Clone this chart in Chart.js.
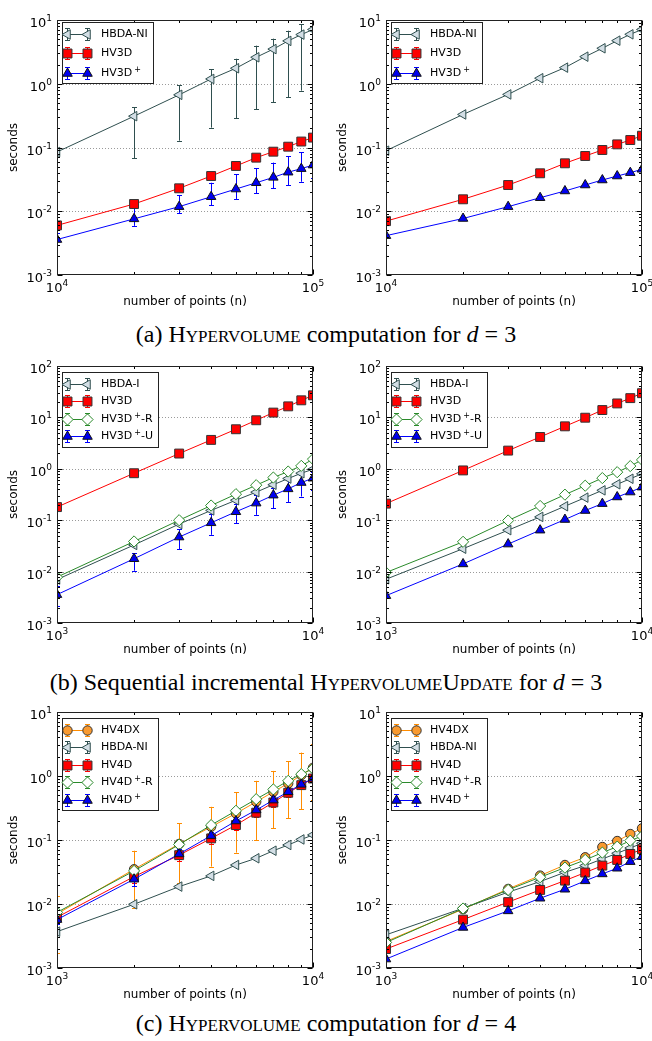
<!DOCTYPE html>
<html>
<head>
<meta charset="utf-8">
<script src="https://cdn.jsdelivr.net/npm/chart.js@4.4.1/dist/chart.umd.min.js"></script>
<style>
  body { margin: 0; background: #fff; }
  #page { position: relative; width: 652px; height: 1041px; overflow: hidden; background: #fff; }
  canvas { position: absolute; }
  .cap { position: absolute; left: 0; width: 652px; text-align: center;
         font-family: "Liberation Serif", "DejaVu Serif", serif; font-size: 24px; line-height: 24px; color: #000; }
  .sc { font-variant: small-caps; }
</style>
</head>
<body>
<div id="page">
  <canvas id="aL" width="326" height="311" style="left:0;top:0"></canvas>
  <canvas id="aR" width="323" height="311" style="left:329px;top:0"></canvas>
  <div class="cap" style="top:322px">(a) <span class="sc">Hypervolume</span> computation for <i>d</i> = 3</div>
  <canvas id="bL" width="326" height="315" style="left:0;top:344px"></canvas>
  <canvas id="bR" width="323" height="315" style="left:329px;top:344px"></canvas>
  <div class="cap" style="top:670px">(b) Sequential incremental <span class="sc">HypervolumeUpdate</span> for <i>d</i> = 3</div>
  <canvas id="cL" width="326" height="312" style="left:0;top:692px"></canvas>
  <canvas id="cR" width="323" height="312" style="left:329px;top:692px"></canvas>
  <div class="cap" style="top:1011px">(c) <span class="sc">Hypervolume</span> computation for <i>d</i> = 4</div>
</div>
<script>
// number of points
const nA = [10000, 20000, 30000, 40000, 50000, 60000, 70000, 80000, 90000, 100000];
const nBC = [1000, 2000, 3000, 4000, 5000, 6000, 7000, 8000, 9000, 10000];

// axis decades and their tick labels (10^exp)
const xMajorA = [1e4, 1e5];
const xExpA = ['4', '5'];
const xMajorBC = [1e3, 1e4];
const xExpBC = ['3', '4'];
const yMajorAC = [1e-3, 1e-2, 1e-1, 1, 10];
const yExpAC = ['-3', '-2', '-1', '0', '1'];
const yMajorB = [1e-3, 1e-2, 1e-1, 1, 10, 100];
const yExpB = ['-3', '-2', '-1', '0', '1', '2'];

// (a) left
const aL_hbda = [0.085, 0.31, 0.67, 1.19, 1.75, 2.6, 3.5, 4.7, 5.9, 7.1];
const aL_hbdaLo = [0.072, 0.068, 0.128, 0.205, 0.287, 0.397, 0.51, 0.61, 0.78, 1.0];
const aL_hbdaHi = [0.098, 0.43, 0.95, 1.68, 2.47, 3.96, 5.1, 6.8, 8.5, 12];
const aL_hv3d = [0.0060, 0.013, 0.0229, 0.0357, 0.0513, 0.0693, 0.086, 0.103, 0.124, 0.143];
const aL_hv3dLo = [0.0054, 0.0115, 0.0205, 0.032, 0.046, 0.062, 0.078, 0.093, 0.111, 0.128];
const aL_hv3dHi = [0.0067, 0.0148, 0.0255, 0.040, 0.057, 0.077, 0.096, 0.115, 0.138, 0.160];
const aL_hv3dp = [0.0036, 0.0076, 0.0118, 0.0169, 0.0223, 0.028, 0.034, 0.041, 0.0466, 0.053];
const aL_hv3dpLo = [0.0030, 0.0059, 0.0093, 0.0125, 0.0156, 0.019, 0.0229, 0.0258, 0.029, 0.0336];
const aL_hv3dpHi = [0.0045, 0.0111, 0.018, 0.028, 0.038, 0.047, 0.058, 0.0736, 0.084, 0.099];

// (a) right
const aR_hbda = [0.089, 0.33, 0.68, 1.22, 1.79, 2.66, 3.6, 4.74, 5.96, 7.1];
const aR_hv3d = [0.0070, 0.0154, 0.0258, 0.0394, 0.0565, 0.0736, 0.0914, 0.112, 0.131, 0.153];
const aR_hv3dp = [0.00414, 0.0077, 0.0118, 0.0163, 0.0208, 0.0258, 0.0309, 0.0357, 0.0403, 0.0455];

// (b) left
const bL_hbda = [0.0070, 0.033, 0.084, 0.155, 0.245, 0.351, 0.49, 0.647, 0.82, 0.98];
const bL_hv3d = [0.18, 0.82, 1.98, 3.65, 5.88, 8.8, 12.4, 16.4, 21.5, 26.9];
const bL_hv3dR = [0.0078, 0.0386, 0.100, 0.193, 0.321, 0.48, 0.676, 0.885, 1.14, 1.54];
const bL_hv3dU = [0.00356, 0.0178, 0.047, 0.089, 0.146, 0.215, 0.307, 0.407, 0.54, 0.656];
const bL_hv3dULo = [0.0021, 0.0104, 0.0274, 0.052, 0.0877, 0.127, 0.171, 0.224, 0.289, 0.39];
const bL_hv3dUHi = [0.0052, 0.023, 0.067, 0.133, 0.205, 0.303, 0.42, 0.61, 0.76, 0.885];

// (b) right
const bR_hbda = [0.0071, 0.0279, 0.064, 0.116, 0.187, 0.275, 0.381, 0.50, 0.64, 0.80];
const bR_hv3d = [0.21, 0.93, 2.26, 4.16, 6.7, 9.86, 13.9, 18.7, 23.7, 29.6];
const bR_hv3dR = [0.0096, 0.038, 0.0986, 0.189, 0.314, 0.469, 0.66, 0.86, 1.13, 1.49];
const bR_hv3dU = [0.0034, 0.0141, 0.0343, 0.064, 0.103, 0.154, 0.21, 0.283, 0.353, 0.44];

// (c) left
const cL_hv4dx = [0.0070, 0.0349, 0.0867, 0.161, 0.26, 0.395, 0.566, 0.764, 1.03, 1.34];
const cL_hv4dxLo = [0.0017, 0.0086, 0.0211, 0.0384, 0.0635, 0.1, 0.152, 0.218, 0.30, 0.42];
const cL_hv4dxHi = [0.0131, 0.068, 0.182, 0.33, 0.553, 0.84, 1.2, 1.70, 2.32, 3.2];
const cL_hbda = [0.0037, 0.0099, 0.0187, 0.0275, 0.0407, 0.0518, 0.068, 0.0836, 0.102, 0.12];
const cL_hv4d = [0.0062, 0.0268, 0.058, 0.106, 0.171, 0.267, 0.386, 0.547, 0.72, 0.914];
const cL_hv4dLo = [0.0052, 0.0215, 0.047, 0.088, 0.145, 0.23, 0.33, 0.47, 0.63, 0.80];
const cL_hv4dHi = [0.0073, 0.032, 0.07, 0.125, 0.2, 0.31, 0.45, 0.63, 0.83, 1.05];
const cL_hv4dR = [0.0074, 0.0329, 0.085, 0.171, 0.286, 0.435, 0.617, 0.84, 1.07, 1.3];
const cL_hv4dp = [0.0057, 0.0244, 0.0605, 0.117, 0.198, 0.294, 0.42, 0.566, 0.74, 0.92];
const cL_hv4dpLo = [0.0048, 0.019, 0.05, 0.1, 0.17, 0.255, 0.365, 0.5, 0.65, 0.81];
const cL_hv4dpHi = [0.0068, 0.031, 0.073, 0.135, 0.228, 0.34, 0.48, 0.64, 0.84, 1.05];

// (c) right
const cR_hv4dx = [0.0026, 0.0083, 0.0172, 0.0278, 0.0407, 0.0537, 0.0778, 0.0964, 0.124, 0.152];
const cR_hbda = [0.0033, 0.0086, 0.0153, 0.0224, 0.0313, 0.0398, 0.0506, 0.062, 0.075, 0.0887];
const cR_hv4d = [0.00198, 0.0057, 0.0107, 0.0166, 0.0232, 0.031, 0.0398, 0.0488, 0.0605, 0.0716];
const cR_hv4dR = [0.0025, 0.0085, 0.0166, 0.0262, 0.037, 0.0488, 0.0635, 0.0787, 0.0977, 0.115];
const cR_hv4dp = [0.00138, 0.0043, 0.0078, 0.0123, 0.017, 0.023, 0.0295, 0.0362, 0.0459, 0.055];

// marker / line look per algorithm family
const look = {
  hbda:   { line: '#2F4F4F', fill: '#D3DEE5', edge: '#2F4F4F', shape: 'triangle', rot: -90, r: 5.5 },
  red:    { line: '#FF0000', fill: '#FF0000', edge: '#333333', shape: 'rect', rot: 0, r: 6.3 },
  blue:   { line: '#0000FF', fill: '#0000F0', edge: '#111111', shape: 'triangle', rot: 0, r: 5.5 },
  green:  { line: '#2A8A2A', fill: '#FFFFFF', edge: '#2A8A2A', shape: 'rectRot', rot: 0, r: 5.6 },
  orange: { line: '#FF8C00', fill: '#F99A30', edge: '#333333', shape: 'circle', rot: 0, r: 4.7 },
};

const FONT = '"DejaVu Sans", sans-serif';

function decadeTicks(majors) {
  let ticks = [];
  majors.forEach((v, i) => {
    ticks.push({ value: v, major: true });
    if (i < majors.length - 1) {
      for (let m = 2; m <= 9; m++) ticks.push({ value: +(v * m).toPrecision(4), major: false });
    }
  });
  return ticks;
}

function drawPow(ctx, exp, x, y, align) {
  ctx.font = `13px ${FONT}`;
  let w1 = ctx.measureText('10').width;
  ctx.font = `9px ${FONT}`;
  let w2 = ctx.measureText(exp).width;
  let x0 = align === 'right' ? x - w1 - w2 : x - (w1 + w2) / 2;
  ctx.textAlign = 'left';
  ctx.textBaseline = 'alphabetic';
  ctx.fillStyle = '#000';
  ctx.font = `13px ${FONT}`;
  ctx.fillText('10', x0, y);
  ctx.font = `9px ${FONT}`;
  ctx.fillText(exp, x0 + w1, y - 6);
}

function drawLabel(ctx, text, x, y) {
  // "⁺" is drawn as a small raised plus
  let parts = text.split('⁺');
  ctx.textBaseline = 'middle';
  ctx.textAlign = 'left';
  ctx.fillStyle = '#000';
  ctx.font = `11px ${FONT}`;
  ctx.fillText(parts[0], x, y);
  let cx = x + ctx.measureText(parts[0]).width;
  if (parts.length > 1) {
    cx += 2;
    ctx.font = `8px ${FONT}`;
    ctx.fillText('+', cx, y - 4);
    cx += ctx.measureText('+').width;
    ctx.font = `11px ${FONT}`;
    ctx.fillText(parts[1], cx, y);
    cx += ctx.measureText(parts[1]).width;
  }
  return cx - x;
}

function marker(ctx, st, x, y) {
  ctx.fillStyle = st.fill;
  ctx.strokeStyle = st.edge;
  ctx.lineWidth = 1;
  Chart.helpers.drawPoint(ctx, { pointStyle: st.shape, radius: st.r, rotation: st.rot, borderWidth: 1 }, x, y);
}

const paperPlugin = {
  id: 'paper',
  beforeDatasetsDraw(chart) {
    let { ctx, chartArea: ca, scales: { x, y } } = chart;
    let o = chart.options.plugins.paper;
    ctx.save();
    // dotted grid at inner decades
    ctx.strokeStyle = '#9a9a9a';
    ctx.lineWidth = 1;
    ctx.setLineDash([1, 2]);
    o.yMajor.slice(1, -1).forEach(v => {
      let py = Math.round(y.getPixelForValue(v)) + 0.5;
      ctx.beginPath();
      ctx.moveTo(ca.left, py);
      ctx.lineTo(ca.right, py);
      ctx.stroke();
    });
    ctx.setLineDash([]);
    // error bars
    ctx.beginPath();
    ctx.rect(ca.left, ca.top, ca.right - ca.left, ca.bottom - ca.top);
    ctx.clip();
    chart.data.datasets.forEach(ds => {
      if (!ds.lo) return;
      ctx.strokeStyle = ds.look.line;
      ds.data.forEach((p, k) => {
        let px = Math.round(x.getPixelForValue(p.x)) + 0.5;
        let y1 = y.getPixelForValue(ds.lo[k]);
        let y2 = y.getPixelForValue(ds.hi[k]);
        ctx.beginPath();
        ctx.moveTo(px, y1); ctx.lineTo(px, y2);
        ctx.moveTo(px - 2.5, Math.round(y1) + 0.5); ctx.lineTo(px + 2.5, Math.round(y1) + 0.5);
        ctx.moveTo(px - 2.5, Math.round(y2) + 0.5); ctx.lineTo(px + 2.5, Math.round(y2) + 0.5);
        ctx.stroke();
      });
    });
    ctx.restore();
  },
  afterDatasetsDraw(chart) {
    let { ctx, chartArea: ca, scales: { x, y } } = chart;
    let o = chart.options.plugins.paper;
    let L = Math.round(ca.left) + 0.5, R = Math.round(ca.right) - 0.5;
    let T = Math.round(ca.top) + 0.5, B = Math.round(ca.bottom) - 0.5;
    ctx.save();
    // inward tick marks on all four sides
    ctx.strokeStyle = '#000';
    ctx.lineWidth = 1;
    ctx.beginPath();
    x.ticks.forEach(t => {
      let px = Math.round(x.getPixelForValue(t.value)) + 0.5;
      let len = t.major ? 5 : 2.5;
      ctx.moveTo(px, B); ctx.lineTo(px, B - len);
      ctx.moveTo(px, T); ctx.lineTo(px, T + len);
    });
    y.ticks.forEach(t => {
      let py = Math.round(y.getPixelForValue(t.value)) + 0.5;
      let len = t.major ? 5 : 2.5;
      ctx.moveTo(L, py); ctx.lineTo(L + len, py);
      ctx.moveTo(R, py); ctx.lineTo(R - len, py);
    });
    ctx.stroke();
    ctx.strokeStyle = '#222';
    ctx.strokeRect(L, T, R - L, B - T);
    // decade labels
    o.xMajor.forEach((v, i) => drawPow(ctx, o.xExp[i], x.getPixelForValue(v), ca.bottom + 17, 'center'));
    o.yMajor.forEach((v, i) => drawPow(ctx, o.yExp[i], ca.left - 5, y.getPixelForValue(v) + 7, 'right'));

    // legend box, upper left inside the axes
    let dss = chart.data.datasets;
    let x0 = ca.left + 5, y0 = ca.top + o.legTop;
    let textW = 0;
    dss.forEach(ds => {
      ctx.save();
      ctx.globalAlpha = 0;
      textW = Math.max(textW, drawLabel(ctx, ds.label, 0, -100));
      ctx.restore();
    });
    let w = 39 + textW + 5;
    let h = 11.5 + (dss.length - 1) * o.rowH + 10.5;
    ctx.fillStyle = '#fff';
    ctx.fillRect(x0, y0, w, h);
    ctx.strokeStyle = '#222';
    ctx.strokeRect(Math.round(x0) + 0.5, Math.round(y0) + 0.5, Math.round(w), Math.round(h));
    dss.forEach((ds, i) => {
      let cy = Math.round(y0 + 11.5 + i * o.rowH) + 0.5;
      let m1 = x0 + 5.5, m2 = x0 + 25.5;
      let st = ds.look;
      ctx.strokeStyle = st.line;
      ctx.lineWidth = 1;
      ctx.beginPath();
      [m1, m2].forEach(mx => {
        ctx.moveTo(mx, cy - 6); ctx.lineTo(mx, cy + 6);
        ctx.moveTo(mx - 2.5, cy - 6); ctx.lineTo(mx + 2.5, cy - 6);
        ctx.moveTo(mx - 2.5, cy + 6); ctx.lineTo(mx + 2.5, cy + 6);
      });
      ctx.moveTo(m1, cy); ctx.lineTo(m2, cy);
      ctx.stroke();
      marker(ctx, st, m1, cy);
      marker(ctx, st, m2, cy);
      drawLabel(ctx, ds.label, x0 + 39, cy);
    });
    ctx.restore();
  }
};

function series(label, lk, values, lo, hi) {
  return { label, lk, values, lo, hi };
}

function makePanel(id, cfg) {
  let datasets = cfg.series.map((s, i) => {
    let st = look[s.lk];
    return {
      label: s.label,
      data: cfg.n.map((v, k) => ({ x: v, y: s.values[k] })),
      lo: s.lo, hi: s.hi, look: st,
      borderColor: st.line,
      backgroundColor: st.fill,
      borderWidth: 1,
      pointStyle: st.shape,
      pointRotation: st.rot,
      pointRadius: st.r,
      pointHoverRadius: st.r,
      pointBackgroundColor: st.fill,
      pointBorderColor: st.edge,
      pointBorderWidth: 1,
      tension: 0,
      order: -i,
    };
  });
  let titleFont = { family: FONT, size: 12 };
  new Chart(document.getElementById(id), {
    type: 'line',
    data: { datasets },
    options: {
      responsive: false,
      animation: false,
      devicePixelRatio: 1,
      events: [],
      layout: { padding: { left: 0, right: cfg.padR, top: cfg.padT, bottom: 0 } },
      plugins: {
        legend: { display: false },
        tooltip: { enabled: false },
        paper: { xMajor: cfg.xMajor, xExp: cfg.xExp, yMajor: cfg.yMajor, yExp: cfg.yExp, rowH: cfg.rowH, legTop: cfg.legTop },
      },
      scales: {
        x: {
          type: 'logarithmic',
          min: cfg.xMajor[0],
          max: cfg.xMajor[cfg.xMajor.length - 1],
          afterBuildTicks: s => { s.ticks = decadeTicks(cfg.xMajor); },
          afterFit: s => { s.height = 36; s.paddingLeft = 0; s.paddingRight = 0; },
          ticks: { display: false },
          grid: { display: false },
          border: { display: false },
          title: { display: true, text: 'number of points (n)', color: '#000', font: titleFont, padding: { top: 0, bottom: 2 } },
        },
        y: {
          type: 'logarithmic',
          min: cfg.yMajor[0],
          max: cfg.yMajor[cfg.yMajor.length - 1],
          afterBuildTicks: s => { s.ticks = decadeTicks(cfg.yMajor); },
          afterFit: s => { s.width = 57; s.paddingTop = 0; s.paddingBottom = 0; },
          ticks: { display: false },
          grid: { display: false },
          border: { display: false },
          title: { display: true, text: 'seconds', color: '#000', font: titleFont, padding: { top: 7, bottom: 0 } },
        },
      },
    },
    plugins: [paperPlugin],
  });
}

const left = { padR: 13 };
const right = { padR: 10 };

makePanel('aL', { ...left, padT: 20, rowH: 19.5, legTop: 2, n: nA, xMajor: xMajorA, xExp: xExpA, yMajor: yMajorAC, yExp: yExpAC,
  series: [
    series('HBDA-NI', 'hbda', aL_hbda, aL_hbdaLo, aL_hbdaHi),
    series('HV3D', 'red', aL_hv3d, aL_hv3dLo, aL_hv3dHi),
    series('HV3D⁺', 'blue', aL_hv3dp, aL_hv3dpLo, aL_hv3dpHi),
  ] });
makePanel('aR', { ...right, padT: 20, rowH: 19.5, legTop: 2, n: nA, xMajor: xMajorA, xExp: xExpA, yMajor: yMajorAC, yExp: yExpAC,
  series: [
    series('HBDA-NI', 'hbda', aR_hbda),
    series('HV3D', 'red', aR_hv3d),
    series('HV3D⁺', 'blue', aR_hv3dp),
  ] });
makePanel('bL', { ...left, padT: 22, rowH: 17.5, legTop: 6, n: nBC, xMajor: xMajorBC, xExp: xExpBC, yMajor: yMajorB, yExp: yExpB,
  series: [
    series('HBDA-I', 'hbda', bL_hbda),
    series('HV3D', 'red', bL_hv3d),
    series('HV3D⁺-R', 'green', bL_hv3dR),
    series('HV3D⁺-U', 'blue', bL_hv3dU, bL_hv3dULo, bL_hv3dUHi),
  ] });
makePanel('bR', { ...right, padT: 22, rowH: 17.5, legTop: 6, n: nBC, xMajor: xMajorBC, xExp: xExpBC, yMajor: yMajorB, yExp: yExpB,
  series: [
    series('HBDA-I', 'hbda', bR_hbda),
    series('HV3D', 'red', bR_hv3d),
    series('HV3D⁺-R', 'green', bR_hv3dR),
    series('HV3D⁺-U', 'blue', bR_hv3dU),
  ] });
makePanel('cL', { ...left, padT: 20, rowH: 17.5, legTop: 6, n: nBC, xMajor: xMajorBC, xExp: xExpBC, yMajor: yMajorAC, yExp: yExpAC,
  series: [
    series('HV4DX', 'orange', cL_hv4dx, cL_hv4dxLo, cL_hv4dxHi),
    series('HBDA-NI', 'hbda', cL_hbda),
    series('HV4D', 'red', cL_hv4d, cL_hv4dLo, cL_hv4dHi),
    series('HV4D⁺-R', 'green', cL_hv4dR),
    series('HV4D⁺', 'blue', cL_hv4dp, cL_hv4dpLo, cL_hv4dpHi),
  ] });
makePanel('cR', { ...right, padT: 20, rowH: 17.5, legTop: 6, n: nBC, xMajor: xMajorBC, xExp: xExpBC, yMajor: yMajorAC, yExp: yExpAC,
  series: [
    series('HV4DX', 'orange', cR_hv4dx),
    series('HBDA-NI', 'hbda', cR_hbda),
    series('HV4D', 'red', cR_hv4d),
    series('HV4D⁺-R', 'green', cR_hv4dR),
    series('HV4D⁺', 'blue', cR_hv4dp),
  ] });
</script>
</body>
</html>
